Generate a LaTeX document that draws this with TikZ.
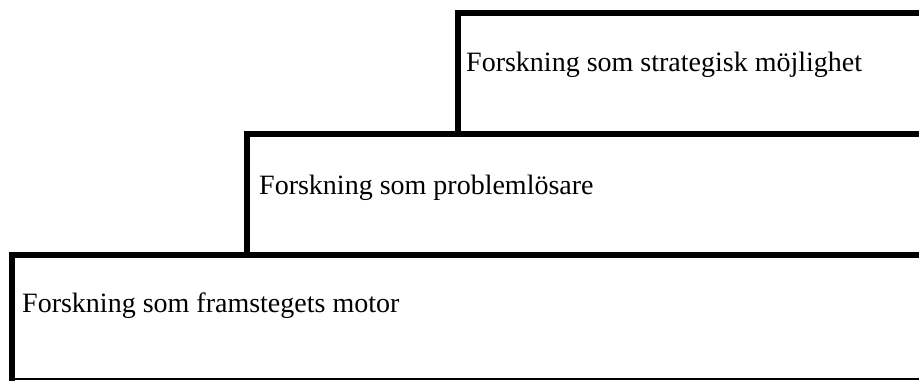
\documentclass[tikz,border=0pt]{standalone}
\usepackage{fontspec}
\setmainfont{Liberation Serif}
\begin{document}
\begin{tikzpicture}[x=1pt,y=-1pt,
  stepline/.style={line width=6pt},
  baseline/.style={line width=2.5pt},
  lbl/.style={anchor=base west, inner sep=0pt, font=\fontsize{28}{32}\selectfont}]
\useasboundingbox (0,0) rectangle (919,381);
\coordinate (c1) at (12,381);
\coordinate (c2) at (12,255);
\coordinate (c3) at (919,255);
\coordinate (c4) at (247,255);
\coordinate (c5) at (247,134);
\coordinate (c6) at (919,134);
\coordinate (c7) at (458,134);
\coordinate (c8) at (458,13);
\coordinate (c9) at (919,13);
\coordinate (b1) at (12,379);
\coordinate (b2) at (919,379);
\draw[baseline] (b1) -- (b2);
\draw[stepline] (c1) -- (c2) -- (c3);
\draw[stepline] (c4) -- (c5) -- (c6);
\draw[stepline] (c7) -- (c8) -- (c9);
\node[lbl] (top) at (466,71) {Forskning som strategisk möjlighet};
\node[lbl] (mid) at (259,194) {Forskning som problemlösare};
\node[lbl] (bot) at (22,312) {Forskning som framstegets motor};
\end{tikzpicture}
\end{document}
